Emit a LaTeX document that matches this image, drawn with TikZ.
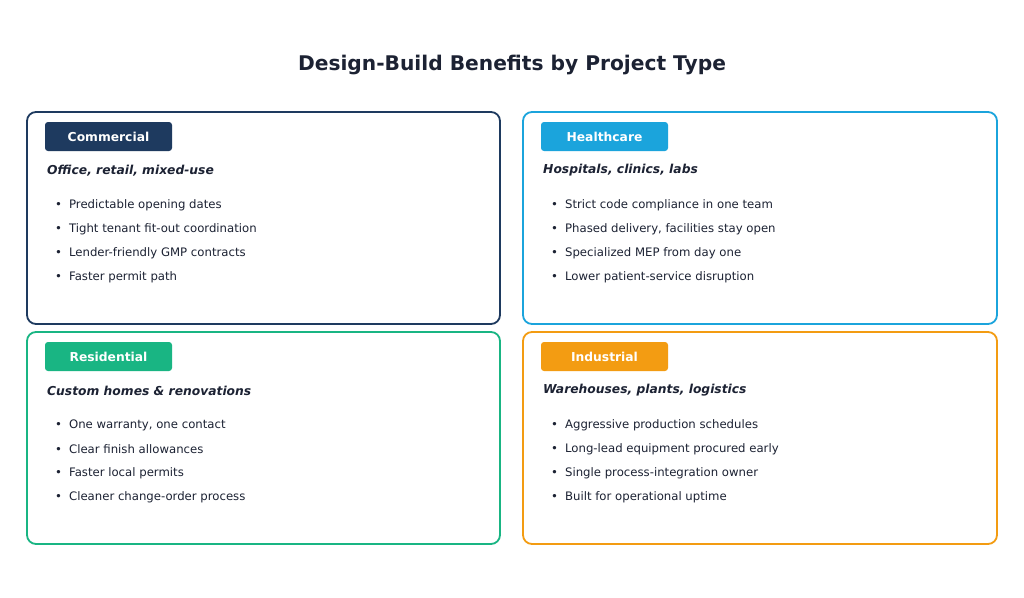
\documentclass[tikz,border=0pt]{standalone}
\usepackage{fontspec}
\setmainfont{DejaVu Sans}
\definecolor{ink}{HTML}{1C2233}
\definecolor{comBlue}{HTML}{1E3A5F}
\definecolor{hlthBlue}{HTML}{1BA4DC}
\definecolor{resGreen}{HTML}{19B583}
\definecolor{indOrange}{HTML}{F39C12}
\begin{document}
\begin{tikzpicture}[x=1pt,y=-1pt,
  frame/.style={draw=#1,line width=1.8pt,rounded corners=9pt},
  tag/.style={fill=#1,rounded corners=3pt,minimum width=127pt,minimum height=29pt,
    inner sep=0pt,text=white,font=\fontsize{12.3}{14}\selectfont\bfseries},
  sub/.style={anchor=west,inner sep=0pt,text=ink,font=\fontsize{12.3}{14}\selectfont\bfseries\itshape},
  item/.style={anchor=west,inner sep=0pt,text=ink,font=\fontsize{11.7}{14}\selectfont}]
\useasboundingbox[fill=white] (0,0) rectangle (1024,597);
\node[text=ink,font=\fontsize{20.2}{24}\selectfont\bfseries] (title) at (512,65.5) {Design-Build Benefits by Project Type};
% commercial
\draw[frame=comBlue] (27,112) rectangle (500,324);
\node[tag=comBlue] (comTag) at (108.5,136.5) {Commercial};
\node[sub] (comSub) at (47,170.5) {Office, retail, mixed-use};
\node[item] (com1) at (55,205) {•\hspace{7pt}Predictable opening dates};
\node[item] (com2) at (55,229) {•\hspace{7pt}Tight tenant fit-out coordination};
\node[item] (com3) at (55,253) {•\hspace{7pt}Lender-friendly GMP contracts};
\node[item] (com4) at (55,277) {•\hspace{7pt}Faster permit path};
% healthcare
\begin{scope}[shift={(496,0)}]
\draw[frame=hlthBlue] (27,112) rectangle (501,324);
\node[tag=hlthBlue] (hlthTag) at (108.5,136.5) {Healthcare};
\node[sub] (hlthSub) at (47,170.5) {Hospitals, clinics, labs};
\node[item] (hlth1) at (55,205) {•\hspace{7pt}Strict code compliance in one team};
\node[item] (hlth2) at (55,229) {•\hspace{7pt}Phased delivery, facilities stay open};
\node[item] (hlth3) at (55,253) {•\hspace{7pt}Specialized MEP from day one};
\node[item] (hlth4) at (55,277) {•\hspace{7pt}Lower patient-service disruption};
\end{scope}
% residential
\begin{scope}[shift={(0,220)}]
\draw[frame=resGreen] (27,112) rectangle (500,324);
\node[tag=resGreen] (resTag) at (108.5,136.5) {Residential};
\node[sub] (resSub) at (47,170.5) {Custom homes \& renovations};
\node[item] (res1) at (55,205) {•\hspace{7pt}One warranty, one contact};
\node[item] (res2) at (55,229) {•\hspace{7pt}Clear finish allowances};
\node[item] (res3) at (55,253) {•\hspace{7pt}Faster local permits};
\node[item] (res4) at (55,277) {•\hspace{7pt}Cleaner change-order process};
\end{scope}
% industrial
\begin{scope}[shift={(496,220)}]
\draw[frame=indOrange] (27,112) rectangle (501,324);
\node[tag=indOrange] (indTag) at (108.5,136.5) {Industrial};
\node[sub] (indSub) at (47,170.5) {Warehouses, plants, logistics};
\node[item] (ind1) at (55,205) {•\hspace{7pt}Aggressive production schedules};
\node[item] (ind2) at (55,229) {•\hspace{7pt}Long-lead equipment procured early};
\node[item] (ind3) at (55,253) {•\hspace{7pt}Single process-integration owner};
\node[item] (ind4) at (55,277) {•\hspace{7pt}Built for operational uptime};
\end{scope}
\end{tikzpicture}
\end{document}
